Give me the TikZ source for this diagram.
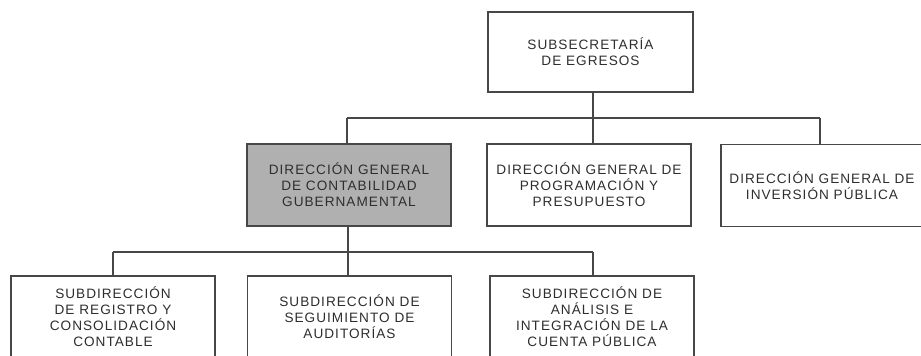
\documentclass[tikz,border=0pt]{standalone}
\usepackage{fontspec}
\setmainfont{Liberation Sans}[LetterSpace=7.5]
\definecolor{ln}{HTML}{474747}
\definecolor{tx}{HTML}{2E2E2E}
\definecolor{gfill}{HTML}{B0B0B0}
\begin{document}
\begin{tikzpicture}[x=1pt,y=-1pt,
  box/.style={draw=ln, line width=1.2pt, minimum width=204pt, minimum height=82pt,
    inner sep=0pt, align=center, text=tx, font=\fontsize{13.6}{16}\selectfont},
  conn/.style={draw=ln, line width=1.2pt}]
\clip (0,0) rectangle (921,356);
\fill[white] (0,0) rectangle (921,356);
\node[box, minimum width=205pt, minimum height=80pt] (sub) at (590.5,52) {SUBSECRETARÍA\\DE EGRESOS};
\node[box, fill=gfill] (dgc) at (349,185) {DIRECCIÓN GENERAL\\DE CONTABILIDAD\\GUBERNAMENTAL};
\node[box] (dgp) at (589,185) {DIRECCIÓN GENERAL DE\\PROGRAMACIÓN Y\\PRESUPUESTO};
\node[box, minimum width=202pt] (dgi) at (822,185.5) {DIRECCIÓN GENERAL DE\\INVERSIÓN PÚBLICA};
\node[box] (s1) at (113,317) {SUBDIRECCIÓN\\DE REGISTRO Y\\CONSOLIDACIÓN\\CONTABLE};
\node[box] (s2) at (349.5,317) {SUBDIRECCIÓN DE\\SEGUIMIENTO DE\\AUDITORÍAS};
\node[box] (s3) at (592,317) {SUBDIRECCIÓN DE\\ANÁLISIS E\\INTEGRACIÓN DE LA\\CUENTA PÚBLICA};
% upper bus
\coordinate (t1) at (593,118);
\coordinate (tl) at (347,118);
\coordinate (tr) at (820,118);
\draw[conn] (sub.south -| t1) -- (t1);
\draw[conn] (tl) -- (tr);
\draw[conn] (tl) -- (tl |- dgc.north);
\draw[conn] (t1) -- (t1 |- dgp.north);
\draw[conn] (tr) -- (tr |- dgi.north);
% lower bus
\coordinate (b1) at (348,252);
\coordinate (bl) at (113,252);
\coordinate (br) at (593,252);
\draw[conn] (dgc.south -| b1) -- (b1);
\draw[conn] (bl) -- (br);
\draw[conn] (bl) -- (bl |- s1.north);
\draw[conn] (b1) -- (b1 |- s2.north);
\draw[conn] (br) -- (br |- s3.north);
\end{tikzpicture}
\end{document}
